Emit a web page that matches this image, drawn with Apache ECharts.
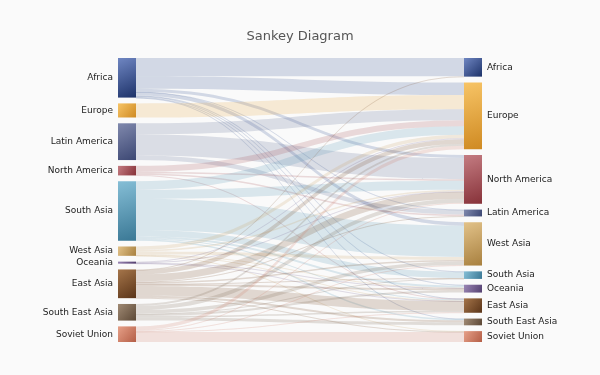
<!DOCTYPE html>
<html>
<head>
<meta charset="utf-8">
<script src="https://cdn.jsdelivr.net/npm/echarts@6/dist/echarts.min.js"></script>
<style>
html,body{margin:0;padding:0;background:#fafafa;}
#chart{width:600px;height:375px;}
</style>
</head>
<body>
<div id="chart"></div>
<script>
// Source (left) regions, in top-to-bottom order
const sourceRegions = ['Africa','Europe','Latin America','North America','South Asia','West Asia','Oceania','East Asia','South East Asia','Soviet Union'];
// Target (right) regions, in top-to-bottom order
const targetRegions = ['Africa','Europe','North America','Latin America','West Asia','South Asia','Oceania','East Asia','South East Asia','Soviet Union'];

// Flow values: one row per source region, columns follow targetRegions
const flowAfrica       = [18, 12.5, 3, 0.3, 3.5, 0.5, 0.8, 0.5, 0.2, 0];
const flowEurope       = [0, 14, 0, 0, 0, 0, 0, 0, 0, 0];
const flowLatinAmerica = [0, 11, 21, 4.5, 0, 0, 0, 0, 0, 0];
const flowNorthAmerica = [0, 6, 1.5, 1.5, 0, 0, 0, 0.5, 0, 0];
const flowSouthAsia    = [0, 8.5, 9, 0, 31, 6, 2, 1, 1.5, 0];
const flowWestAsia     = [0, 3.5, 1.5, 0, 3, 0, 0.5, 0.5, 0, 0.3];
const flowOceania      = [0, 0.8, 0.4, 0, 0, 0, 0.5, 0.3, 0, 0];
const flowEastAsia     = [0.5, 4.5, 7, 0.5, 1.5, 0.5, 2, 9.5, 2, 0.5];
const flowSouthEastAsia= [0, 2, 4, 0, 3.5, 0.5, 2, 1.5, 3, 0];
const flowSovietUnion  = [0, 3.5, 1, 0, 0.5, 0, 0, 0.5, 0, 10];

const flows = [flowAfrica, flowEurope, flowLatinAmerica, flowNorthAmerica, flowSouthAsia,
               flowWestAsia, flowOceania, flowEastAsia, flowSouthEastAsia, flowSovietUnion];

// Region colours: [light, base, dark]
const regionColors = {
  'Africa':          ['#6f86c2', '#34508f', '#1d3269'],
  'Europe':          ['#f7c466', '#e8a33a', '#cf8a22'],
  'Latin America':   ['#8089ad', '#5a6791', '#3c4773'],
  'North America':   ['#c47c82', '#a54e55', '#873239'],
  'South Asia':      ['#85bed6', '#5598b5', '#3a7895'],
  'West Asia':       ['#e2c289', '#c9a063', '#a8803f'],
  'Oceania':         ['#9a86b4', '#6e5a8a', '#544070'],
  'East Asia':       ['#a5754a', '#7a4d2a', '#5a3418'],
  'South East Asia': ['#a08a74', '#7a6450', '#5c4836'],
  'Soviet Union':    ['#e6a088', '#cc7a62', '#b45e46']
};

function grad(name){
  const c = regionColors[name];
  return new echarts.graphic.LinearGradient(0, 0, 1, 1, [
    {offset: 0, color: c[0]}, {offset: 1, color: c[2]}
  ]);
}

const nodes = [];
sourceRegions.forEach(n => nodes.push({
  name: 'src|' + n,
  itemStyle: {color: grad(n)},
  label: {position: 'left'}
}));
targetRegions.forEach(n => nodes.push({
  name: 'dst|' + n,
  itemStyle: {color: grad(n)},
  label: {position: 'right'}
}));

const links = [];
sourceRegions.forEach((s, i) => {
  flows[i].forEach((v, j) => {
    if (v > 0) {
      links.push({
        source: 'src|' + s,
        target: 'dst|' + targetRegions[j],
        value: v,
        lineStyle: {color: regionColors[s][1], opacity: 0.2}
      });
    }
  });
});

const chart = echarts.init(document.getElementById('chart'));
chart.setOption({
  backgroundColor: '#fafafa',
  animation: false,
  title: {
    text: 'Sankey Diagram',
    left: 'center',
    top: 25,
    textStyle: {fontFamily: 'DejaVu Sans', fontSize: 13, fontWeight: 'normal', color: '#555'}
  },
  series: [{
    type: 'sankey',
    left: 118,
    right: 118,
    top: 58,
    bottom: 33,
    nodeWidth: 18,
    nodeGap: 5.8,
    layoutIterations: 0,
    draggable: false,
    data: nodes,
    links: links,
    label: {
      fontFamily: 'DejaVu Sans',
      fontSize: 9,
      color: '#222',
      distance: 5,
      formatter: p => p.name.split('|')[1]
    },
    lineStyle: {curveness: 0.5},
    emphasis: {disabled: true}
  }]
});
</script>
</body>
</html>
